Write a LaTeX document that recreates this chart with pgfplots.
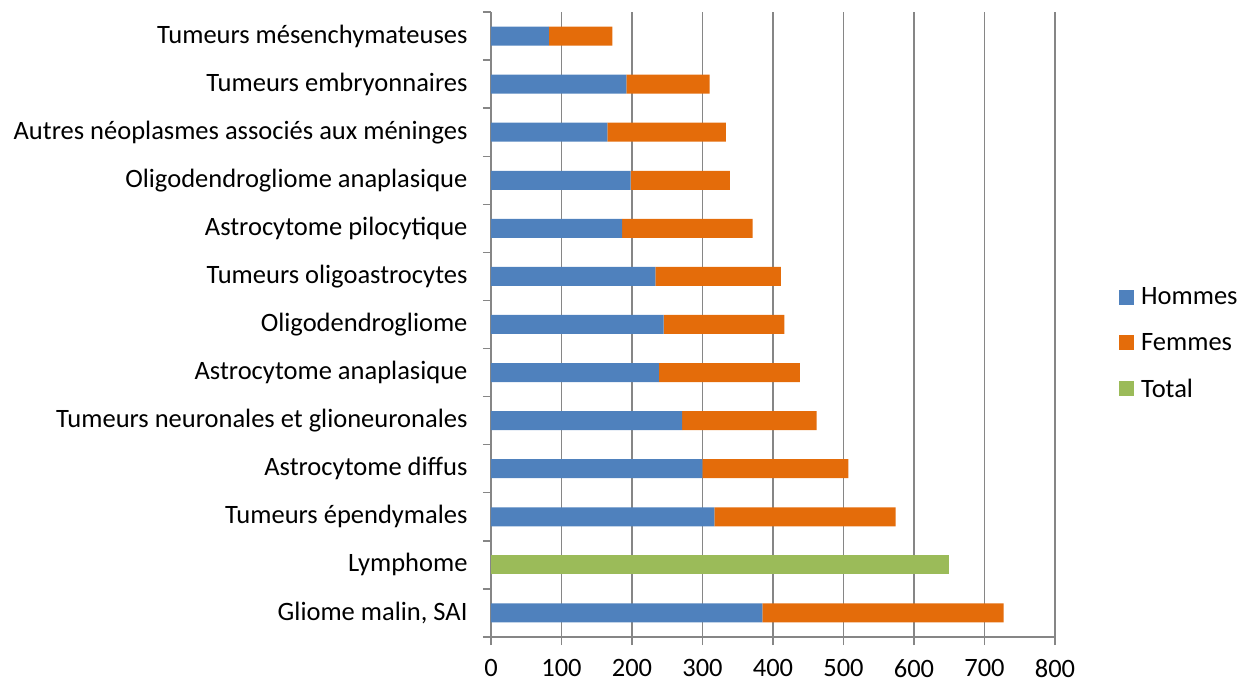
\documentclass[border=0pt]{standalone}
\usepackage{pgfplots}
\pgfplotsset{compat=1.18}
\usepackage{fontspec}
\setmainfont{Carlito}
\definecolor{cblue}{HTML}{4F81BD}
\definecolor{corange}{HTML}{E46C0A}
\definecolor{cgreen}{HTML}{9BBB59}
\definecolor{cgrid}{HTML}{868686}
\begin{document}
\begin{tikzpicture}[x=1pt,y=1pt]
\path[use as bounding box] (0,0) rectangle (1243,683);
\begin{axis}[
  at={(491pt,46pt)}, anchor=south west,
  scale only axis, width=564pt, height=625pt,
  xbar stacked, bar width=19pt,
  xmin=0, xmax=800, xtick={0,100,...,800},
  ymin=-0.5, ymax=12.5,
  ytick={0,...,12},
  yticklabels={{Gliome malin, SAI},Lymphome,{Tumeurs épendymales},{Astrocytome diffus},{Tumeurs neuronales et glioneuronales},{Astrocytome anaplasique},Oligodendrogliome,{Tumeurs oligoastrocytes},{Astrocytome pilocytique},{Oligodendrogliome anaplasique},{Autres néoplasmes associés aux méninges},{Tumeurs embryonnaires},{Tumeurs mésenchymateuses}},
  minor ytick={-0.5,0.5,...,12.5},
  axis x line*=bottom, axis y line*=left,
  axis line style={cgrid, line width=1.4pt},
  xmajorgrids, major grid style={cgrid, line width=1.4pt},
  major tick length=8pt,
  minor tick length=8pt,
  tick style={cgrid, line width=1.4pt},
  major y tick style={draw=none},
  tick align=outside,
  every tick label/.append style={font=\fontsize{26.5}{32}\selectfont},
  /pgf/number format/assume math mode=true,
  yticklabel style={xshift=-12pt},
  xticklabel style={yshift=-11pt},
  legend style={at={(1.1135,0.470)}, anchor=west, draw=none, fill=none,
    font=\fontsize{26.5}{32}\selectfont, row sep=23pt, inner sep=0pt},
  legend cell align=left,
  legend image code/.code={\fill[#1] (0pt,-7.5pt) rectangle (15pt,7.5pt); \path (20pt,0pt);},
  clip=false,
]
\addplot[fill=cblue, draw=none] coordinates {(385,0) (0,1) (317,2) (300,3) (271,4) (238,5) (245,6) (233,7) (186,8) (198,9) (165,10) (192,11) (82,12)};
\addplot[fill=corange, draw=none] coordinates {(342,0) (0,1) (257,2) (207,3) (191,4) (200,5) (171,6) (178,7) (185,8) (141,9) (168,10) (118,11) (90,12)};
\addplot[fill=cgreen, draw=none] coordinates {(0,0) (649,1) (0,2) (0,3) (0,4) (0,5) (0,6) (0,7) (0,8) (0,9) (0,10) (0,11) (0,12)};
\legend{Hommes,Femmes,Total}
\end{axis}
\end{tikzpicture}
\end{document}
